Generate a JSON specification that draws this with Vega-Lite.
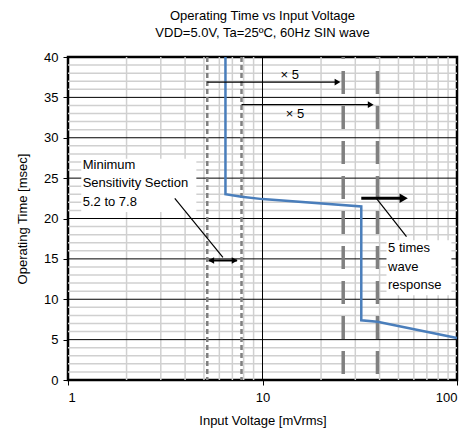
{
  "$schema": "https://vega.github.io/schema/vega-lite/v6.json",
  "width": 389,
  "height": 323,
  "autosize": {"type": "none"},
  "padding": {"left": 68, "top": 57, "right": 18, "bottom": 54},
  "background": "white",
  "title": {
    "text": ["Operating Time vs Input Voltage", "VDD=5.0V, Ta=25ºC, 60Hz SIN wave"],
    "fontSize": 13,
    "fontWeight": "normal",
    "font": "Liberation Sans",
    "anchor": "middle",
    "offset": 11,
    "lineHeight": 17,
    "color": "black"
  },
  "config": {
    "font": "Liberation Sans",
    "view": {"stroke": "black", "strokeWidth": 2.5},
    "axis": {
      "grid": false,
      "domain": false,
      "tickColor": "black",
      "tickSize": 5,
      "labelFontSize": 13,
      "labelColor": "black",
      "labelFont": "Liberation Sans",
      "titleFont": "Liberation Sans",
      "titleFontSize": 13,
      "titleFontWeight": "normal",
      "titleColor": "black"
    }
  },
  "datasets": {
    "minorx": [
      {"x": 2}, {"x": 3}, {"x": 4}, {"x": 5}, {"x": 6}, {"x": 7}, {"x": 8}, {"x": 9},
      {"x": 20}, {"x": 30}, {"x": 40}, {"x": 50}, {"x": 60}, {"x": 70}, {"x": 80}, {"x": 90}
    ],
    "minory": [
      {"y": 1}, {"y": 2}, {"y": 3}, {"y": 4}, {"y": 6}, {"y": 7}, {"y": 8}, {"y": 9},
      {"y": 11}, {"y": 12}, {"y": 13}, {"y": 14}, {"y": 16}, {"y": 17}, {"y": 18}, {"y": 19},
      {"y": 21}, {"y": 22}, {"y": 23}, {"y": 24}, {"y": 26}, {"y": 27}, {"y": 28}, {"y": 29},
      {"y": 31}, {"y": 32}, {"y": 33}, {"y": 34}, {"y": 36}, {"y": 37}, {"y": 38}, {"y": 39}
    ],
    "majory": [{"y": 5}, {"y": 10}, {"y": 15}, {"y": 20}, {"y": 25}, {"y": 30}, {"y": 35}],
    "majorx": [{"x": 10}],
    "boxes": [
      {"x": 1.17, "x2": 4.57, "y": 27.4, "y2": 20.8},
      {"x": 43.4, "x2": 93.6, "y": 17.3, "y2": 10.5}
    ],
    "thin": [{"x": 5.2}, {"x": 7.8}],
    "thick": [{"x": 26}, {"x": 39}],
    "curve": [
      {"x": 6.45, "y": 40},
      {"x": 6.45, "y": 23.0},
      {"x": 7.8, "y": 22.7},
      {"x": 10, "y": 22.4},
      {"x": 32.2, "y": 21.5},
      {"x": 32.2, "y": 7.4},
      {"x": 39, "y": 7.2},
      {"x": 100, "y": 5.2}
    ],
    "arrows": [
      {"x": 5.2, "x2": 24.5, "y": 36.9, "y2": 36.9, "w": 1.3},
      {"x": 7.8, "x2": 36.5, "y": 34.1, "y2": 34.1, "w": 1.3},
      {"x": 5.3, "x2": 7.4, "y": 14.8, "y2": 14.8, "w": 2},
      {"x": 32.2, "x2": 53, "y": 22.5, "y2": 22.5, "w": 3},
      {"x": 3.54, "x2": 6.26, "y": 22.5, "y2": 15.2, "w": 1.2},
      {"x": 38.5, "x2": 55, "y": 22.5, "y2": 17.75, "w": 1.2}
    ],
    "headsR": [
      {"x": 24.3, "y": 36.9, "s": 45},
      {"x": 36.0, "y": 34.1, "s": 45},
      {"x": 7.19, "y": 14.8, "s": 45},
      {"x": 53.2, "y": 22.5, "s": 90}
    ],
    "headsL": [
      {"x": 5.45, "y": 14.8, "s": 45}
    ],
    "labelsC": [
      {"x": 13.8, "y": 37.8, "t": "× 5"},
      {"x": 14.7, "y": 32.9, "t": "× 5"}
    ],
    "labelsL": [
      {"x": 1.19, "y": 26.6, "t": "Minimum"},
      {"x": 1.19, "y": 24.4, "t": "Sensitivity Section"},
      {"x": 1.19, "y": 22.0, "t": "5.2 to 7.8"},
      {"x": 44.2, "y": 16.3, "t": "5 times"},
      {"x": 44.2, "y": 14.0, "t": "wave"},
      {"x": 44.2, "y": 11.8, "t": "response"}
    ]
  },
  "layer": [
    {
      "data": {"name": "minorx"},
      "mark": {"type": "rule", "color": "#d0d0d0", "strokeWidth": 1.5},
      "encoding": {
        "x": {"field": "x", "type": "quantitative", "scale": {"type": "log", "domain": [1, 100]},
              "axis": {"values": [1, 10, 100], "format": "d", "title": "Input Voltage [mVrms]", "labelPadding": 6, "titlePadding": 10}}
      }
    },
    {
      "data": {"name": "minory"},
      "mark": {"type": "rule", "color": "#d0d0d0", "strokeWidth": 1.5},
      "encoding": {
        "y": {"field": "y", "type": "quantitative", "scale": {"domain": [0, 40]},
              "axis": {"values": [0, 5, 10, 15, 20, 25, 30, 35, 40], "title": "Operating Time [msec]", "labelPadding": 5, "titlePadding": 14}}
      }
    },
    {
      "data": {"name": "majory"},
      "mark": {"type": "rule", "color": "black", "strokeWidth": 1},
      "encoding": {
        "y": {"field": "y", "type": "quantitative"}
      }
    },
    {
      "data": {"name": "majorx"},
      "mark": {"type": "rule", "color": "black", "strokeWidth": 1},
      "encoding": {
        "x": {"field": "x", "type": "quantitative"}
      }
    },
    {
      "data": {"name": "boxes"},
      "mark": {"type": "rect", "color": "white"},
      "encoding": {
        "x": {"field": "x", "type": "quantitative"},
        "x2": {"field": "x2"},
        "y": {"field": "y", "type": "quantitative"},
        "y2": {"field": "y2"}
      }
    },
    {
      "data": {"name": "thin"},
      "mark": {"type": "rule", "color": "#808080", "strokeWidth": 2.5, "strokeDash": [5, 3]},
      "encoding": {
        "x": {"field": "x", "type": "quantitative"}
      }
    },
    {
      "data": {"name": "thick"},
      "mark": {"type": "rule", "color": "#808080", "strokeWidth": 3.5, "strokeDash": [23, 12], "strokeDashOffset": 21},
      "encoding": {
        "x": {"field": "x", "type": "quantitative"}
      }
    },
    {
      "data": {"name": "curve"},
      "mark": {"type": "line", "color": "#4a7ebb", "strokeWidth": 2.5},
      "encoding": {
        "x": {"field": "x", "type": "quantitative"},
        "y": {"field": "y", "type": "quantitative"},
        "order": {"value": 0}
      }
    },
    {
      "data": {"name": "arrows"},
      "mark": {"type": "rule", "color": "black"},
      "encoding": {
        "x": {"field": "x", "type": "quantitative"},
        "x2": {"field": "x2"},
        "y": {"field": "y", "type": "quantitative"},
        "y2": {"field": "y2"},
        "strokeWidth": {"field": "w", "type": "quantitative", "scale": null}
      }
    },
    {
      "data": {"name": "headsR"},
      "mark": {"type": "point", "shape": "triangle-right", "filled": true, "color": "black", "opacity": 1},
      "encoding": {
        "x": {"field": "x", "type": "quantitative"},
        "y": {"field": "y", "type": "quantitative"},
        "size": {"field": "s", "type": "quantitative", "scale": null}
      }
    },
    {
      "data": {"name": "headsL"},
      "mark": {"type": "point", "shape": "triangle-left", "filled": true, "color": "black", "opacity": 1},
      "encoding": {
        "x": {"field": "x", "type": "quantitative"},
        "y": {"field": "y", "type": "quantitative"},
        "size": {"field": "s", "type": "quantitative", "scale": null}
      }
    },
    {
      "data": {"name": "labelsC"},
      "mark": {"type": "text", "fontSize": 13, "color": "black", "baseline": "middle", "align": "center"},
      "encoding": {
        "x": {"field": "x", "type": "quantitative"},
        "y": {"field": "y", "type": "quantitative"},
        "text": {"field": "t"}
      }
    },
    {
      "data": {"name": "labelsL"},
      "mark": {"type": "text", "fontSize": 13, "color": "black", "baseline": "middle", "align": "left"},
      "encoding": {
        "x": {"field": "x", "type": "quantitative"},
        "y": {"field": "y", "type": "quantitative"},
        "text": {"field": "t"}
      }
    }
  ]
}
